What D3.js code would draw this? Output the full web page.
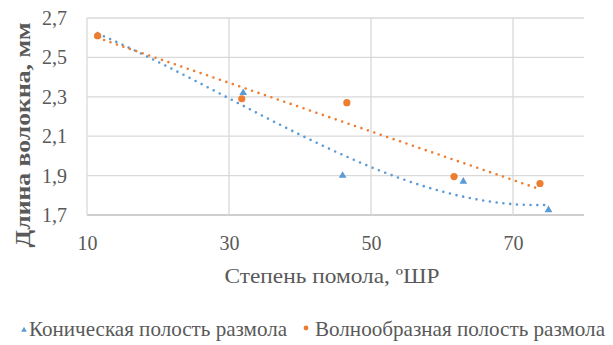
<!DOCTYPE html>
<html>
<head>
<meta charset="utf-8">
<script src="https://cdn.jsdelivr.net/npm/d3@7"></script>
<style>
  html, body { margin: 0; padding: 0; background: #fff; }
</style>
</head>
<body>
<svg id="chart" width="613" height="345"></svg>
<script>
// Degree of beating (ºШР) vs fibre length (мм)
const conicalX = [11.5, 32, 46, 63, 75];
const conicalY = [2.61, 2.32, 1.90, 1.87, 1.725];
const waveX = [11.5, 31.8, 46.6, 61.7, 73.8];
const waveY = [2.61, 2.29, 2.27, 1.895, 1.86];
const xTicks = [10, 30, 50, 70];
const yTicks = [1.7, 1.9, 2.1, 2.3, 2.5, 2.7];
const seriesNames = ["Коническая полость размола", "Волнообразная полость размола"];
const colors = ["#5B9BD5", "#ED7D31"];

const FONT = "'Liberation Serif', 'Liberation Sans', serif";
const TEXT = "#595959";

const svg = d3.select("#chart");
const x = d3.scaleLinear().domain([10, 80]).range([87, 584]);
const y = d3.scaleLinear().domain([1.7, 2.7]).range([215, 18]);
const fmt = v => d3.format(".1f")(v).replace(".", ",");

// gridlines
const grid = svg.append("g");
grid.selectAll("line.h").data(yTicks).join("line")
  .attr("x1", x(10)).attr("x2", x(80))
  .attr("y1", d => y(d)).attr("y2", d => y(d))
  .attr("stroke", d => d === 1.7 ? "#bfbfbf" : "#d9d9d9").attr("stroke-width", 1.3);
grid.selectAll("line.v").data(xTicks).join("line")
  .attr("y1", y(1.7)).attr("y2", y(2.7))
  .attr("x1", d => x(d)).attr("x2", d => x(d))
  .attr("stroke", "#d9d9d9").attr("stroke-width", 1.3);

// axes
const yAxis = svg.append("g").attr("transform", `translate(${x(10)},0)`)
  .call(d3.axisLeft(y).tickValues(yTicks).tickFormat(fmt).tickSize(0).tickPadding(20));
const xAxis = svg.append("g").attr("transform", `translate(0,${y(1.7)})`)
  .call(d3.axisBottom(x).tickValues(xTicks).tickFormat(d3.format("d")).tickSize(0).tickPadding(21));
[yAxis, xAxis].forEach(g => {
  g.attr("font-family", FONT).attr("font-size", 20);
  g.select(".domain").remove();
  g.selectAll("text").attr("fill", TEXT);
});

// least-squares polynomial trendline
function polyFit(xs, ys, deg) {
  const n = deg + 1;
  const A = Array.from({length: n}, () => new Array(n + 1).fill(0));
  xs.forEach((xv, k) => {
    for (let i = 0; i < n; i++) {
      for (let j = 0; j < n; j++) A[i][j] += Math.pow(xv, i + j);
      A[i][n] += ys[k] * Math.pow(xv, i);
    }
  });
  for (let i = 0; i < n; i++) {
    let p = i;
    for (let r = i + 1; r < n; r++) if (Math.abs(A[r][i]) > Math.abs(A[p][i])) p = r;
    [A[i], A[p]] = [A[p], A[i]];
    for (let r = 0; r < n; r++) {
      if (r === i) continue;
      const f = A[r][i] / A[i][i];
      for (let c = i; c <= n; c++) A[r][c] -= f * A[i][c];
    }
  }
  const coef = A.map((row, i) => row[n] / row[i]);
  return xv => coef.reduce((s, c, i) => s + c * Math.pow(xv, i), 0);
}
const trends = [
  {f: polyFit(conicalX, conicalY, 3), xs: conicalX, c: colors[0]},
  {f: polyFit(waveX, waveY, 1), xs: waveX, c: colors[1]}
];
const line = d3.line().x(d => x(d[0])).y(d => y(d[1]));
trends.forEach(t => {
  const pts = d3.range(d3.min(t.xs), d3.max(t.xs) + 0.01, 0.5).map(v => [v, t.f(v)]);
  svg.append("path").attr("d", line(pts)).attr("fill", "none")
    .attr("stroke", t.c).attr("stroke-width", 2.6)
    .attr("stroke-linecap", "round").attr("stroke-dasharray", "0 6.8");
});

// markers
const tri = d3.symbol().type(d3.symbolTriangle).size(26);
svg.append("g").selectAll("path").data(d3.zip(conicalX, conicalY)).join("path")
  .attr("d", tri).attr("transform", d => `translate(${x(d[0])},${y(d[1])})`)
  .attr("fill", colors[0]);
svg.append("g").selectAll("circle").data(d3.zip(waveX, waveY)).join("circle")
  .attr("cx", d => x(d[0])).attr("cy", d => y(d[1])).attr("r", 3.6)
  .attr("fill", colors[1]);

// axis titles
svg.append("text").attr("x", 332).attr("y", 283).attr("text-anchor", "middle")
  .attr("font-family", FONT).attr("font-size", 21).attr("fill", TEXT)
  .attr("textLength", 215).attr("lengthAdjust", "spacingAndGlyphs")
  .text("Степень помола, ºШР");
svg.append("text").attr("transform", "translate(30,135) rotate(-90)").attr("text-anchor", "middle")
  .attr("font-family", FONT).attr("font-size", 22).attr("font-weight", "bold").attr("fill", TEXT)
  .attr("textLength", 225).attr("lengthAdjust", "spacingAndGlyphs")
  .text("Длина волокна, мм");

// legend
const legend = svg.append("g").attr("transform", "translate(0,336)")
  .attr("font-family", FONT).attr("font-size", 21).attr("fill", TEXT);
legend.append("path").attr("d", d3.symbol().type(d3.symbolTriangle).size(14))
  .attr("transform", "translate(24,-6)").attr("fill", colors[0]);
legend.append("text").attr("x", 29).attr("y", 0)
  .attr("textLength", 258).attr("lengthAdjust", "spacingAndGlyphs").text(seriesNames[0]);
legend.append("circle").attr("cx", 306).attr("cy", -8).attr("r", 2.4).attr("fill", colors[1]);
legend.append("text").attr("x", 315).attr("y", 0)
  .attr("textLength", 290).attr("lengthAdjust", "spacingAndGlyphs").text(seriesNames[1]);
</script>
</body>
</html>
